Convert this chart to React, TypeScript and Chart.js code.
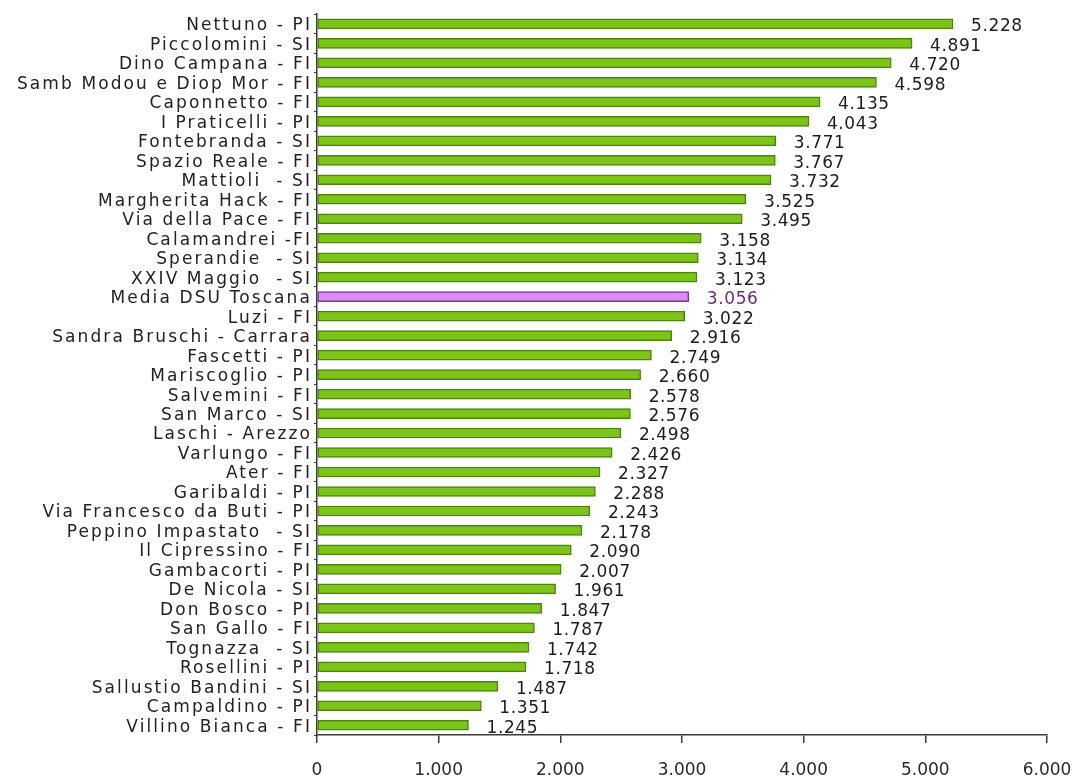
import React, { useEffect, useRef } from "react";
import { Chart, registerables } from "chart.js";

Chart.register(...registerables);

const residences: string[] = [
  "Nettuno - PI",
  "Piccolomini - SI",
  "Dino Campana - FI",
  "Samb Modou e Diop Mor - FI",
  "Caponnetto - FI",
  "I Praticelli - PI",
  "Fontebranda - SI",
  "Spazio Reale - FI",
  "Mattioli  - SI",
  "Margherita Hack - FI",
  "Via della Pace - FI",
  "Calamandrei -FI",
  "Sperandie  - SI",
  "XXIV Maggio  - SI",
  "Media DSU Toscana",
  "Luzi - FI",
  "Sandra Bruschi - Carrara",
  "Fascetti - PI",
  "Mariscoglio - PI",
  "Salvemini - FI",
  "San Marco - SI",
  "Laschi - Arezzo",
  "Varlungo - FI",
  "Ater - FI",
  "Garibaldi - PI",
  "Via Francesco da Buti - PI",
  "Peppino Impastato  - SI",
  "Il Cipressino - FI",
  "Gambacorti - PI",
  "De Nicola - SI",
  "Don Bosco - PI",
  "San Gallo - FI",
  "Tognazza  - SI",
  "Rosellini - PI",
  "Sallustio Bandini - SI",
  "Campaldino - PI",
  "Villino Bianca - FI",
];

const values: number[] = [
  5228, 4891, 4720, 4598, 4135, 4043, 3771, 3767, 3732, 3525, 3495, 3158,
  3134, 3123, 3056, 3022, 2916, 2749, 2660, 2578, 2576, 2498, 2426, 2327,
  2288, 2243, 2178, 2090, 2007, 1961, 1847, 1787, 1742, 1718, 1487, 1351,
  1245,
];

const averageLabel = "Media DSU Toscana";
const axisTicks: number[] = [0, 1000, 2000, 3000, 4000, 5000, 6000];

const GREEN_FILL = "#7cc418";
const GREEN_EDGE = "#4a860f";
const PURPLE_FILL = "#dc8cf6";
const PURPLE_EDGE = "#7e3a92";
const FONT = "'DejaVu Sans', Verdana, sans-serif";

// Italian thousands separator: 5228 -> "5.228"
const fmt = (v: number) => {
  if (v === 0) return "0";
  const s = Math.round(v).toString();
  return s.replace(/\B(?=(\d{3})+(?!\d))/g, ".");
};

const valueLabels = {
  id: "valueLabels",
  afterDatasetsDraw(chart: any) {
    const { ctx } = chart;
    const meta = chart.getDatasetMeta(0);
    const xScale = chart.scales.x;
    ctx.save();
    ctx.font = `17px ${FONT}`;
    (ctx as any).letterSpacing = "0.6px";
    ctx.textAlign = "left";
    ctx.textBaseline = "middle";
    meta.data.forEach((bar: any, i: number) => {
      const v = values[i];
      const x = xScale.getPixelForValue(v) + 18;
      const y = bar.y + 3;
      ctx.fillStyle = residences[i] === averageLabel ? "#6a2a7c" : "#1c1c1c";
      ctx.fillText(fmt(v), x, y);
    });
    ctx.restore();
  },
};

// Spaced-out category names on the left axis
const spacedYLabels = {
  id: "spacedYLabels",
  beforeDraw(chart: any) {
    const y = chart.scales.y;
    if (!y || y.__spaced) return;
    const orig = y.drawLabels.bind(y);
    y.drawLabels = (area: any) => {
      const c = y.ctx;
      c.save();
      (c as any).letterSpacing = "2.1px";
      c.translate(2, 2);
      orig(area);
      c.restore();
    };
    y.__spaced = true;
  },
};

export default function App() {
  const canvasRef = useRef<HTMLCanvasElement | null>(null);

  useEffect(() => {
    const canvas = canvasRef.current;
    if (!canvas) return;
    const chart = new Chart(canvas, {
      type: "bar",
      data: {
        labels: residences,
        datasets: [
          {
            data: values,
            backgroundColor: residences.map((r) =>
              r === averageLabel ? PURPLE_FILL : GREEN_FILL
            ),
            borderColor: residences.map((r) =>
              r === averageLabel ? PURPLE_EDGE : GREEN_EDGE
            ),
            borderWidth: 1.5,
            borderSkipped: false,
            barThickness: 10,
          },
        ],
      },
      options: {
        indexAxis: "y",
        responsive: false,
        animation: false,
        layout: { padding: { top: 8, right: 37, left: 0, bottom: 0 } },
        plugins: {
          legend: { display: false },
          tooltip: { enabled: false },
        },
        scales: {
          x: {
            min: 0,
            max: 6000,
            afterBuildTicks(scale: any) {
              scale.ticks = axisTicks.map((v) => ({ value: v }));
            },
            afterFit(scale: any) {
              scale.height = 43;
              scale.paddingLeft = 0;
              scale.paddingRight = 0;
            },
            ticks: {
              callback: (v: any) => fmt(Number(v)),
              color: "#2a2a2a",
              font: { family: FONT, size: 17 },
              padding: 17,
              maxRotation: 0,
            },
            grid: {
              drawOnChartArea: false,
              drawTicks: true,
              tickLength: 8,
              color: "#3a3a3a",
              lineWidth: 1.5,
            },
            border: { display: true, color: "#3a3a3a", width: 1.5 },
          },
          y: {
            afterFit(scale: any) {
              scale.width = 317;
            },
            ticks: {
              color: "#222222",
              font: { family: FONT, size: 17 },
              padding: 4,
              autoSkip: false,
            },
            grid: {
              drawOnChartArea: false,
              drawTicks: true,
              tickLength: 3,
              color: "#3a3a3a",
              lineWidth: 1,
              offset: true,
            },
            border: { display: true, color: "#3a3a3a", width: 1.5 },
          },
        },
      },
      plugins: [valueLabels, spacedYLabels],
    });
    return () => chart.destroy();
  }, []);

  return (
    <div
      style={{
        position: "fixed",
        left: 0,
        top: 0,
        width: 1084,
        height: 778,
        background: "#ffffff",
      }}
    >
      <canvas ref={canvasRef} width={1084} height={778} />
    </div>
  );
}
